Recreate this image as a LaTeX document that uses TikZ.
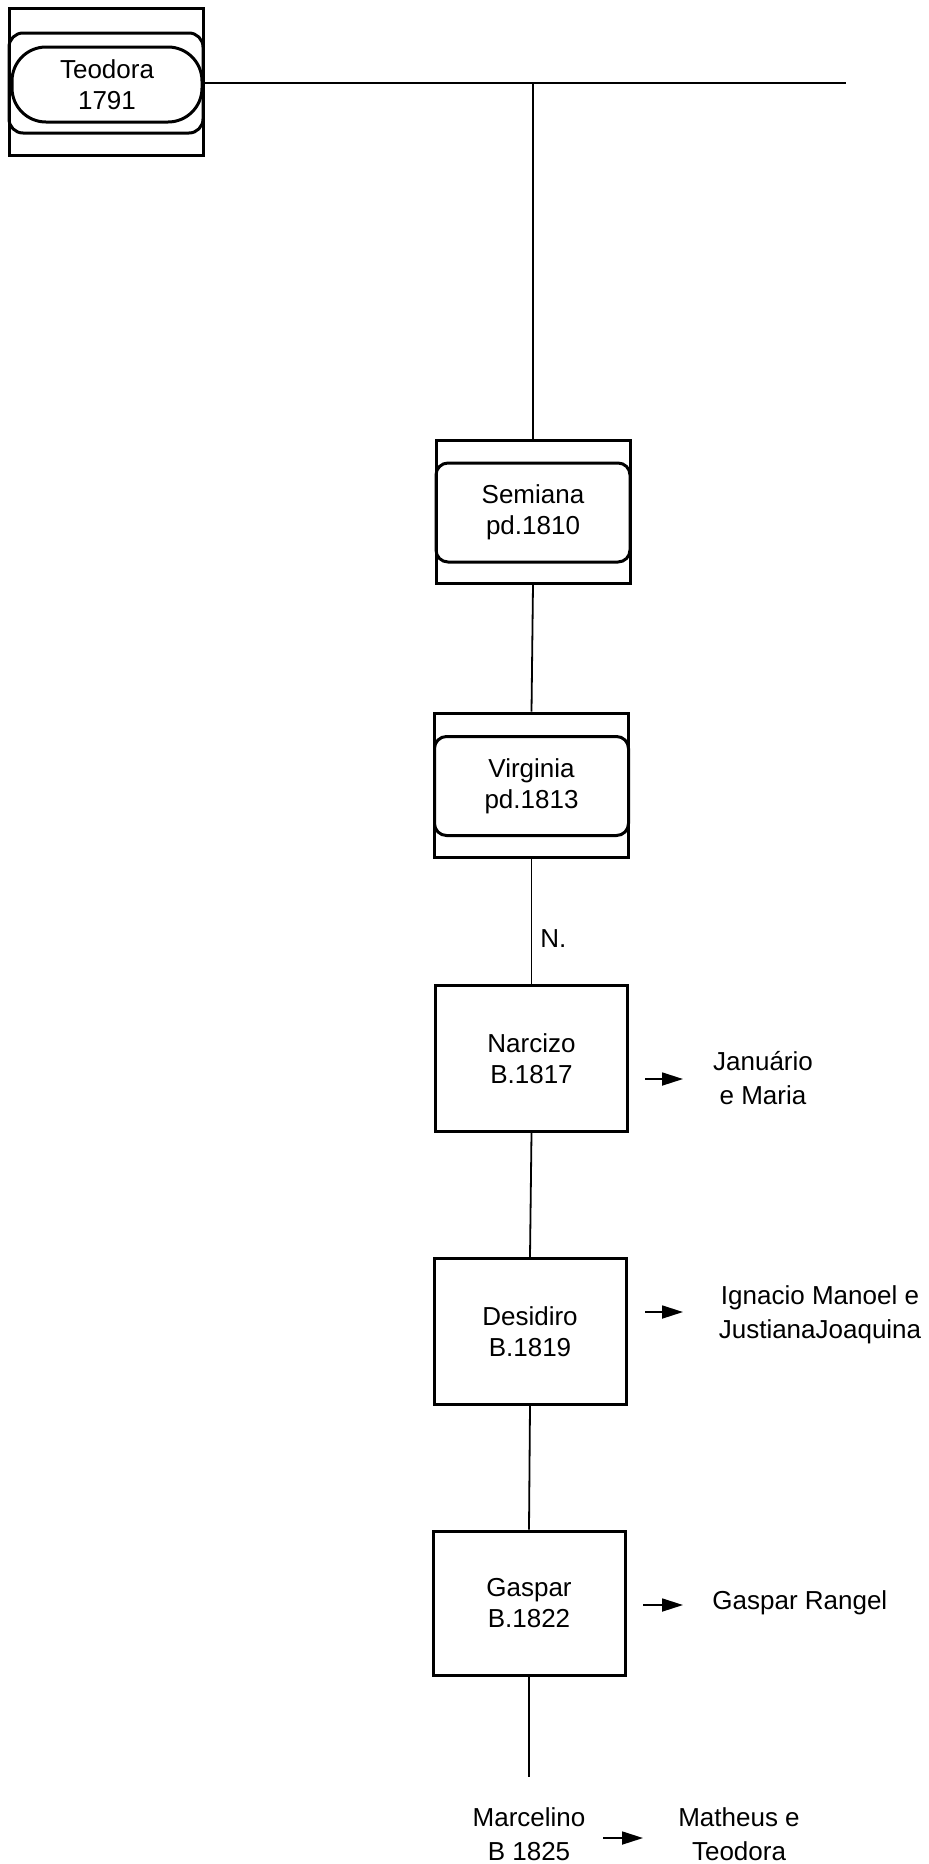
\documentclass[tikz,border=0pt]{standalone}
\usepackage{fontspec}
\setmainfont{Liberation Sans}
\usetikzlibrary{arrows.meta}
\newcommand\boxfont{\fontsize{13}{15.5}\selectfont}
\newcommand\pairfont{\fontsize{13}{16.8}\selectfont}
\begin{document}
\begin{tikzpicture}[x=0.5pt,y=-0.5pt,
  outerbox/.style={draw, line width=1.5pt, minimum width=97pt, minimum height=72pt, inner sep=0pt},
  framebox/.style={draw, line width=1.5pt, rounded corners=6pt, minimum width=97pt, minimum height=49.5pt, inner sep=0pt},
  personbox/.style={draw, line width=1.5pt, minimum width=96pt, minimum height=73pt, inner sep=0pt, align=center, font=\boxfont},
  label/.style={inner sep=0pt, align=center, font=\boxfont},
  pair/.style={inner sep=0pt, align=center, font=\pairfont},
  link/.style={line width=0.9pt},
  child/.style={line width=0.9pt, -{Triangle[length=10.5pt,width=6.5pt]}}
]
\useasboundingbox (0,0) rectangle (928,1864);

% Teodora: framed stadium
\node[outerbox, minimum height=73.5pt] (teodora) at (106,81.5) {};
\node[framebox, minimum height=50pt, rounded corners=7pt] (teodoraFrame) at (106,83) {};
\node[draw, line width=1.5pt, minimum width=95pt, minimum height=37.5pt, rounded corners=17pt,
      inner sep=0pt, align=center, font=\boxfont] (teodoraName) at (107,84.5) {Teodora\\1791};

% Semiana
\node[outerbox, minimum height=71.5pt] (semiana) at (533,511.5) {};
\node[framebox, label, draw] (semianaName) at (533,512.5) {Semiana\\pd.1810};

% Virginia
\node[outerbox, minimum height=72pt] (virginia) at (531.5,785) {};
\node[framebox, label, draw] (virginiaName) at (531.5,786) {Virginia\\pd.1813};

% children boxes
\node[personbox] (narcizo) at (531.5,1058.5) {Narcizo\\B.1817};
\node[personbox] (desidiro) at (530,1331.5) {Desidiro\\B.1819};
\node[personbox, minimum height=72pt] (gaspar) at (529,1603) {Gaspar\\B.1822};

% spouses / descendants
\node[pair] (januario) at (763,1078) {Januário\\e Maria};
\node[pair] (ignacio) at (820,1315) {Ignacio Manoel e\\JustianaJoaquina};
\node[label, anchor=west] (rangel) at (712,1603) {Gaspar Rangel};
\node[pair] (marcelino) at (529,1834) {Marcelino\\B 1825};
\node[pair] (matheus) at (739,1834) {Matheus e\\Teodora};

\node[label, anchor=west] (nmark) at (540,939) {N.};

% line of descent
\coordinate (hend) at (846,83);
\coordinate (junction) at (533,83);
\coordinate (gend) at (529,1777);
\draw[link] (teodora.east |- hend) -- (hend);
\draw[link] (junction) -- (semiana.north);
\draw[link] (semiana.south) -- (virginia.north);
\draw[link] (virginia.south) -- (narcizo.north);
\draw[link] (narcizo.south) -- (desidiro.north);
\draw[link] (desidiro.south) -- (gaspar.north);
\draw[link] (gaspar.south) -- (gend);

% arrows to spouses
\coordinate (a1s) at (645,1079); \coordinate (a1e) at (683,1079);
\coordinate (a2s) at (645,1312); \coordinate (a2e) at (683,1312);
\coordinate (a3s) at (643,1605); \coordinate (a3e) at (683,1605);
\coordinate (a4s) at (603,1838); \coordinate (a4e) at (643,1838);
\draw[child] (a1s) -- (a1e);
\draw[child] (a2s) -- (a2e);
\draw[child] (a3s) -- (a3e);
\draw[child] (a4s) -- (a4e);
\end{tikzpicture}
\end{document}
